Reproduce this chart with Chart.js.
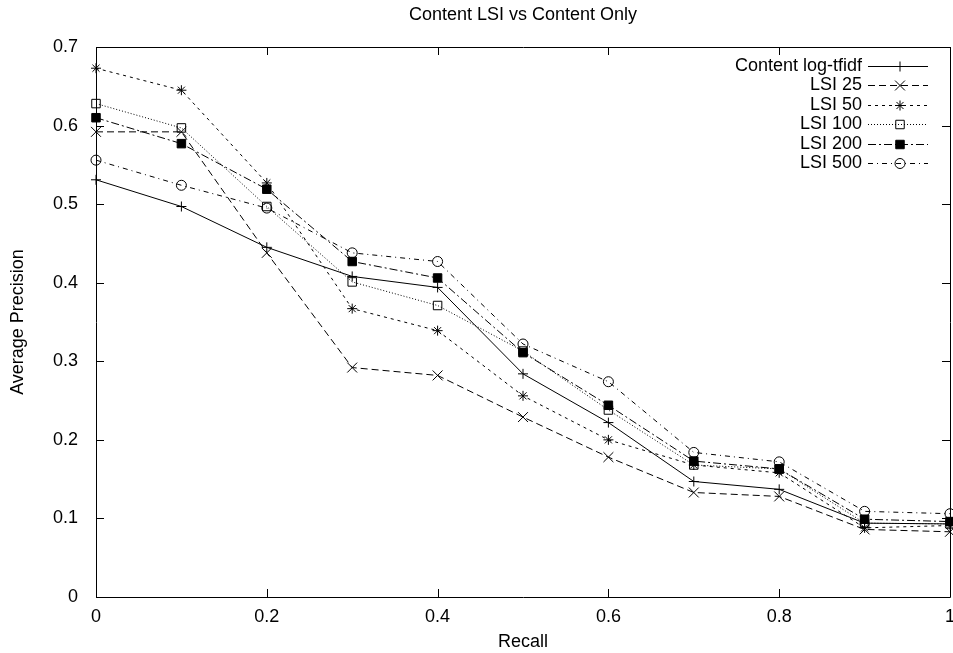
<!DOCTYPE html>
<html>
<head>
<meta charset="utf-8">
<script src="https://cdn.jsdelivr.net/npm/chart.js@4/dist/chart.umd.min.js"></script>
<style>
  html, body { margin: 0; padding: 0; background: #fff; }
  #wrap { width: 953px; height: 653px; }
</style>
</head>
<body>
<div id="wrap"><canvas id="chart" width="953" height="653"></canvas></div>
<script>
// Data
const recall = [0, 0.1, 0.2, 0.3, 0.4, 0.5, 0.6, 0.7, 0.8, 0.9, 1.0];

const contentLogTfidf = [0.531, 0.497, 0.445, 0.408, 0.394, 0.284, 0.222, 0.147, 0.137, 0.094, 0.093];
const lsi25  = [0.592, 0.592, 0.438, 0.292, 0.282, 0.229, 0.178, 0.133, 0.128, 0.086, 0.083];
const lsi50  = [0.673, 0.645, 0.527, 0.367, 0.339, 0.256, 0.200, 0.168, 0.158, 0.088, 0.091];
const lsi100 = [0.628, 0.597, 0.497, 0.401, 0.371, 0.313, 0.238, 0.168, 0.163, 0.094, 0.093];
const lsi200 = [0.610, 0.577, 0.519, 0.427, 0.406, 0.311, 0.244, 0.173, 0.163, 0.099, 0.096];
const lsi500 = [0.556, 0.524, 0.495, 0.438, 0.427, 0.322, 0.274, 0.184, 0.172, 0.109, 0.106];

const seriesNames = ['Content log-tfidf', 'LSI 25', 'LSI 50', 'LSI 100', 'LSI 200', 'LSI 500'];

const xTickValues = [0, 0.2, 0.4, 0.6, 0.8, 1];
const xTickLabels = ['0', '0.2', '0.4', '0.6', '0.8', '1'];
const yTickValues = [0, 0.1, 0.2, 0.3, 0.4, 0.5, 0.6, 0.7];
const yTickLabels = ['0', '0.1', '0.2', '0.3', '0.4', '0.5', '0.6', '0.7'];

const titleText = 'Content LSI vs Content Only';
const FONT = "'Liberation Sans', Arial, Helvetica, sans-serif";

// Line / marker styles (gnuplot-like)
const styles = [
    { dash: [],            point: 'cross',    radius: 5, fill: 'transparent' },
    { dash: [7, 4],        point: 'crossRot', radius: 7, fill: 'transparent' },
    { dash: [3, 4],        point: 'star',     radius: 5, fill: 'transparent' },
    { dash: [1, 2],        point: 'rect',     radius: 6, fill: 'transparent' },
    { dash: [8, 3, 2, 3],  point: 'rect',     radius: 6, fill: '#000' },
    { dash: [5, 4, 1, 4],  point: 'circle',   radius: 5, fill: 'transparent' }
];

const allSeries = [contentLogTfidf, lsi25, lsi50, lsi100, lsi200, lsi500];

const datasets = allSeries.map((vals, i) => ({
    label: seriesNames[i],
    data: vals.map((v, j) => ({ x: recall[j], y: v })),
    borderColor: '#000',
    borderWidth: 1,
    borderDash: styles[i].dash,
    pointStyle: styles[i].point,
    pointRadius: styles[i].radius,
    pointBorderWidth: 1,
    pointBorderColor: '#000',
    pointBackgroundColor: styles[i].fill,
    tension: 0,
    clip: false
}));

// Frame, inward mirrored ticks, title, legend
const gnuplotFrame = {
    id: 'gnuplotFrame',
    beforeDatasetsDraw(chart) {
        const { ctx, chartArea: a, scales } = chart;
        const t = 8;
        ctx.save();
        ctx.strokeStyle = '#000';
        ctx.lineWidth = 1;
        ctx.setLineDash([]);
        ctx.beginPath();
        ctx.rect(Math.round(a.left) + 0.5, Math.round(a.top) + 0.5,
                 Math.round(a.right - a.left), Math.round(a.bottom - a.top));
        xTickValues.forEach(v => {
            const x = Math.round(scales.x.getPixelForValue(v)) + 0.5;
            ctx.moveTo(x, a.bottom); ctx.lineTo(x, a.bottom - t);
            ctx.moveTo(x, a.top); ctx.lineTo(x, a.top + t);
        });
        yTickValues.forEach(v => {
            const y = Math.round(scales.y.getPixelForValue(v)) + 0.5;
            ctx.moveTo(a.left, y); ctx.lineTo(a.left + t, y);
            ctx.moveTo(a.right, y); ctx.lineTo(a.right - t, y);
        });
        ctx.stroke();

        // title
        ctx.fillStyle = '#000';
        ctx.font = '18px ' + FONT;
        ctx.textAlign = 'center';
        ctx.textBaseline = 'middle';
        ctx.fillText(titleText, (a.left + a.right) / 2, 15);
        ctx.restore();
    },
    afterDatasetsDraw(chart) {
        const { ctx } = chart;
        ctx.save();
        ctx.font = '18px ' + FONT;
        ctx.fillStyle = '#000';
        ctx.textAlign = 'right';
        ctx.textBaseline = 'middle';
        chart.data.datasets.forEach((ds, i) => {
            const y = 66 + i * 19.4;
            ctx.fillText(ds.label, 862, y);
            ctx.strokeStyle = '#000';
            ctx.lineWidth = 1;
            ctx.setLineDash(ds.borderDash);
            ctx.beginPath();
            ctx.moveTo(868, Math.round(y) + 0.5);
            ctx.lineTo(928, Math.round(y) + 0.5);
            ctx.stroke();
            ctx.setLineDash([]);
            ctx.fillStyle = ds.pointBackgroundColor;
            ctx.strokeStyle = '#000';
            Chart.helpers.drawPoint(ctx, {
                pointStyle: ds.pointStyle,
                radius: ds.pointRadius,
                borderWidth: 1,
                rotation: 0
            }, 900, Math.round(y) + 0.5);
            ctx.fillStyle = '#000';
        });
        ctx.restore();
    }
};

new Chart(document.getElementById('chart'), {
    type: 'line',
    data: { datasets },
    options: {
        responsive: false,
        animation: false,
        events: [],
        layout: { autoPadding: false, padding: { top: 47, right: 3, left: 0, bottom: 0 } },
        plugins: {
            legend: { display: false },
            title: { display: false },
            tooltip: { enabled: false }
        },
        scales: {
            x: {
                type: 'linear',
                min: 0,
                max: 1,
                afterFit: s => { s.height = 56; s.paddingLeft = 0; s.paddingRight = 0; },
                afterBuildTicks: s => { s.ticks = xTickValues.map(v => ({ value: v })); },
                grid: { display: false },
                border: { display: false },
                ticks: {
                    color: '#000',
                    padding: 1,
                    maxRotation: 0,
                    autoSkip: false,
                    font: { family: FONT, size: 18 },
                    callback: (v, i) => xTickLabels[i]
                },
                title: {
                    display: true,
                    text: 'Recall',
                    color: '#000',
                    font: { family: FONT, size: 18 },
                    padding: { top: 0, bottom: 0 }
                }
            },
            y: {
                type: 'linear',
                min: 0,
                max: 0.7,
                afterFit: s => { s.width = 96; s.paddingTop = 0; s.paddingBottom = 0; },
                afterBuildTicks: s => { s.ticks = yTickValues.map(v => ({ value: v })); },
                grid: { display: false },
                border: { display: false },
                ticks: {
                    color: '#000',
                    padding: 10,
                    autoSkip: false,
                    font: { family: FONT, size: 18 },
                    callback: (v, i) => yTickLabels[i]
                },
                title: {
                    display: true,
                    text: 'Average Precision',
                    color: '#000',
                    font: { family: FONT, size: 18 },
                    padding: { top: 7, bottom: 0 }
                }
            }
        }
    },
    plugins: [gnuplotFrame]
});
</script>
</body>
</html>
